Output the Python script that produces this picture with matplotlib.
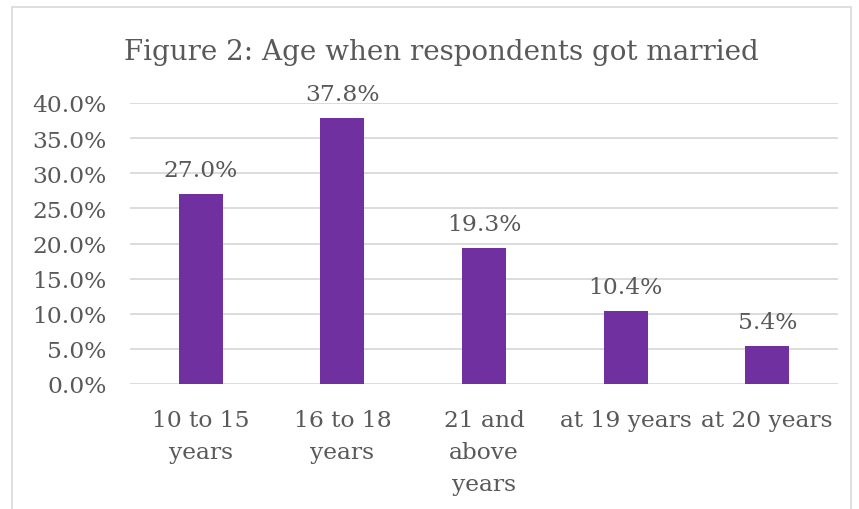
import matplotlib.pyplot as plt
from matplotlib.patches import Rectangle

# datos del grafico
categorias = ["10 to 15\nyears", "16 to 18\nyears", "21 and\nabove\nyears",
              "at 19 years", "at 20 years"]
porcentajes = [27.0, 37.8, 19.3, 10.4, 5.4]
ticks_y = [0, 5, 10, 15, 20, 25, 30, 35, 40]

gris = "#595959"
plt.rcParams["font.family"] = ["DejaVu Serif"]

fig = plt.figure(figsize=(8.59, 5.10), dpi=100)
# borde del area del grafico
fig.patches.append(Rectangle((12 / 859, -0.1), 839 / 859, 1.1 - 8 / 510,
                             transform=fig.transFigure, fill=False,
                             edgecolor="#D9D9D9", linewidth=1.2))

ax = fig.add_axes([130 / 859, 1 - 385 / 510, 708 / 859, 281 / 510])
x = range(len(categorias))
ax.bar(x, porcentajes, width=0.31, color="#7030A0", zorder=3)
for i, v in enumerate(porcentajes):
    ax.text(i, v + 1.9, f"{v:.1f}%", ha="center", va="bottom",
            fontsize=16.8, color=gris)

ax.set_xlim(-0.5, 4.5)
ax.set_ylim(0, 40)
ax.set_yticks(ticks_y)
ax.set_yticklabels([f"{t:.1f}%" for t in ticks_y])
ax.set_xticks(list(x))
ax.set_xticklabels(categorias, linespacing=1.6, va="top")
ax.tick_params(axis="y", length=0, labelsize=16.8, labelcolor=gris, pad=17)
ax.tick_params(axis="x", length=0, labelsize=16.8, labelcolor=gris, pad=18)
ax.grid(axis="y", color="#D9D9D9", linewidth=1.3, zorder=0)
for s in ax.spines.values():
    s.set_visible(False)

fig.text(441 / 859, 1 - 53 / 510, "Figure 2: Age when respondents got married",
         ha="center", va="center", fontsize=20, color=gris)

fig.savefig("out.png", dpi=100)
